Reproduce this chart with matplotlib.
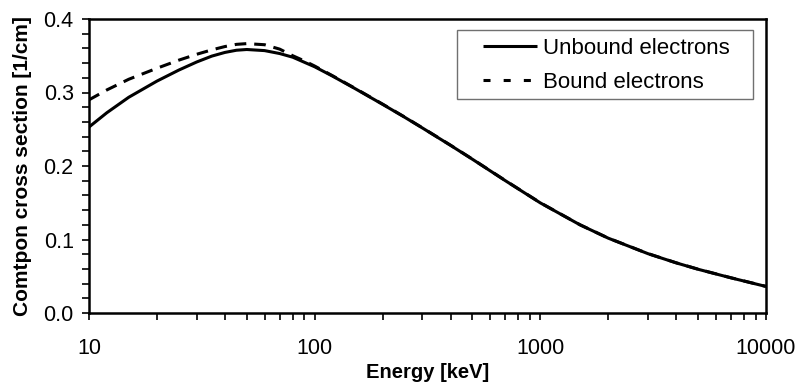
import matplotlib
matplotlib.use("Agg")
import matplotlib.pyplot as plt
from matplotlib.ticker import MultipleLocator, LogLocator, FixedLocator, NullFormatter
from matplotlib.patches import Rectangle

plt.rcParams['font.family'] = ['Liberation Sans', 'DejaVu Sans']

energy_unbound = [10, 12, 15, 20, 25, 30, 35, 40, 45, 50, 60, 70, 80, 100, 120, 150, 200,
                  250, 300, 400, 500, 700, 1000, 1500, 2000, 3000, 4000, 5000, 7000, 10000]
unbound = [0.253, 0.2725, 0.2935, 0.3155, 0.3305, 0.3415, 0.3495, 0.3545, 0.3575, 0.3585,
           0.357, 0.353, 0.348, 0.335, 0.3223, 0.3058, 0.2839, 0.2665, 0.2518, 0.2281,
           0.2092, 0.1800, 0.1498, 0.1199, 0.1018, 0.0807, 0.0682, 0.0595, 0.0478, 0.0361]

energy_bound = [10, 12, 15, 20, 25, 30, 35, 40, 45, 50, 60, 70, 80, 90, 100, 120, 150, 200,
                250, 300, 400, 500, 700, 1000, 1500, 2000, 3000, 4000, 5000, 7000, 10000]
bound = [0.290, 0.3035, 0.318, 0.333, 0.344, 0.352, 0.358, 0.3625, 0.3655, 0.3665, 0.365,
         0.359, 0.350, 0.343, 0.336, 0.3228, 0.3062, 0.2842, 0.2668, 0.2520, 0.2283,
         0.2094, 0.1802, 0.1500, 0.1200, 0.1019, 0.0808, 0.0683, 0.0596, 0.0479, 0.0362]

x_ticks = [10, 100, 1000, 10000]
x_ticklabels = ["10", "100", "1000", "10000"]
y_ticks = [0.0, 0.1, 0.2, 0.3, 0.4]
y_ticklabels = ["0.0", "0.1", "0.2", "0.3", "0.4"]

fig = plt.figure(figsize=(7.98, 3.87), dpi=100)
ax = fig.add_axes([89/798, 1-313/387, (766-89)/798, (313-19)/387])

ax.plot(energy_unbound, unbound, color='black', lw=2.2, solid_capstyle='butt',
        solid_joinstyle='round', label='Unbound electrons')
ax.plot(energy_bound, bound, color='black', lw=2.2, dashes=(3.8, 2.6),
        label='Bound electrons')

ax.set_xscale('log')
ax.set_xlim(10, 10000)
ax.set_ylim(0, 0.4)
ax.xaxis.set_major_locator(FixedLocator(x_ticks))
ax.set_xticklabels(x_ticklabels)
ax.xaxis.set_minor_locator(LogLocator(base=10, subs=range(2, 10)))
ax.xaxis.set_minor_formatter(NullFormatter())
ax.yaxis.set_major_locator(FixedLocator(y_ticks))
ax.set_yticklabels(y_ticklabels)
ax.yaxis.set_minor_locator(MultipleLocator(0.02))

for s in ax.spines.values():
    s.set_linewidth(1.8)
ax.tick_params(which='both', direction='out', length=5, width=1.2, top=False, right=False,
               labelsize=15.5, colors='black')
ax.tick_params(axis='x', which='major', pad=13)
ax.tick_params(axis='y', which='major', pad=6)

ax.set_xlabel('Energy [keV]', fontsize=14.5, fontweight='bold', labelpad=3)
ax.set_ylabel('Comtpon cross section [1/cm]', fontsize=15, fontweight='bold', labelpad=8)

ax.add_patch(Rectangle((0.5436, 0.728), 0.4374, 0.235, transform=ax.transAxes,
                       fill=True, facecolor='white', edgecolor='#707070', lw=1.0, zorder=4))
leg = ax.legend(loc='upper left', bbox_to_anchor=(0.5754, 0.952), frameon=False,
                fontsize=16, handlelength=2.45, handletextpad=0.27, labelspacing=0.6,
                borderpad=0.2, borderaxespad=0.0)
leg.set_zorder(5)
leg.get_lines()[1].set_dashes((2.3, 4.3))

fig.savefig('out.png', dpi=100)
